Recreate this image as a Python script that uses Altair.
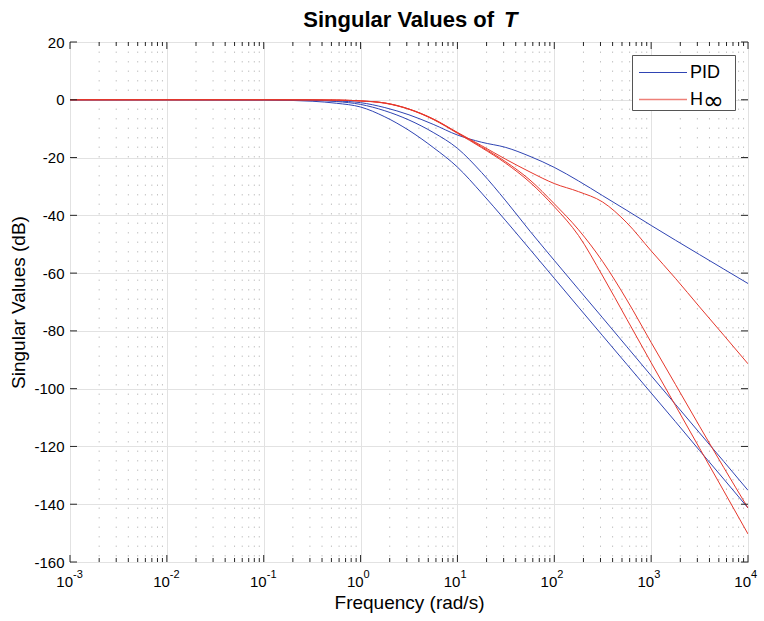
import altair as alt
import pandas as pd

# ---------------- data ----------------
FREQ = [0.001, 0.01, 0.1, 0.316, 0.562, 1, 1.78, 3.16, 5.62, 10, 17.8, 31.6,
        56.2, 100, 178, 316, 562, 1000, 1780, 3160, 5620, 10000]

PID_1 = [0, 0, -0.02, -0.12, -0.4, -1.0, -2.7, -5.2, -8.5, -12.2, -14.7, -16.5,
         -19.6, -23.4, -28.1, -33.2, -38.3, -43.5, -48.6, -53.6, -58.6, -63.6]
PID_2 = [0, 0, -0.03, -0.2, -0.6, -1.6, -3.8, -7.0, -11.3, -16.8, -25.2, -35.0,
         -45.5, -55.6, -65.6, -75.5, -85.5, -95.5, -105.4, -115.3, -125.2, -135.2]
PID_3 = [0, 0, -0.06, -0.5, -1.2, -2.5, -5.9, -10.6, -16.5, -23.3, -32.3, -41.9,
         -51.8, -61.8, -71.8, -81.7, -91.6, -101.5, -111.4, -121.4, -131.3, -141.3]
HINF_1 = [0, 0, 0, -0.03, -0.1, -0.4, -1.1, -3.2, -6.6, -11.3, -15.9, -20.6,
          -25.0, -29.0, -31.8, -35.4, -42.6, -52.3, -61.8, -71.7, -81.5, -91.4]
HINF_2 = [0, 0, 0, -0.03, -0.1, -0.4, -1.2, -3.3, -6.8, -11.6, -16.6, -22.0,
          -28.6, -37.0, -47.0, -61.0, -76.0, -91.0, -105.8, -120.6, -135.4, -150.3]
HINF_3 = [0, 0, 0, -0.03, -0.1, -0.4, -1.1, -3.2, -6.7, -11.4, -16.3, -21.5,
          -27.8, -36.0, -45.0, -56.0, -69.3, -84.0, -98.5, -113.0, -127.3, -141.3]

SERIES = [("PID", "p1", PID_1), ("PID", "p2", PID_2), ("PID", "p3", PID_3),
          ("H∞", "h1", HINF_1), ("H∞", "h2", HINF_2), ("H∞", "h3", HINF_3)]

DECADES = [0.001, 0.01, 0.1, 1, 10, 100, 1000, 10000]
EXPONENTS = ["-3", "-2", "-1", "0", "1", "2", "3", "4"]
MINOR = [m * d for d in DECADES[:-1] for m in range(2, 10)]
Y_TICKS = [20, 0, -20, -40, -60, -80, -100, -120, -140, -160]
LEGEND_NAMES = ["PID", "H"]

BLUE = "#2f44b3"
RED = "#e6372b"
RED_LEGEND = "#ee8078"
AX = "#262626"
W, H = 678, 520
FONT = "Liberation Sans"

# ---------------- build tables ----------------
rows = []
for group, curve, vals in SERIES:
    for f, v in zip(FREQ, vals):
        rows.append({"freq": f, "db": v, "group": group, "curve": curve})
df = pd.DataFrame(rows)

dec_df = pd.DataFrame({"f": DECADES, "base": ["10"] * len(DECADES), "exp": EXPONENTS})
minor_df = pd.DataFrame({"f": MINOR})
ytick_df = pd.DataFrame({"y": Y_TICKS})
one = pd.DataFrame({"k": [0]})

xs = alt.Scale(type="log", domain=[0.001, 10000], nice=False)
ys = alt.Scale(domain=[-160, 20], nice=False, zero=False)

X_AXIS = alt.Axis(values=DECADES, grid=True, gridColor="#e2e2e2", labels=False,
                  ticks=False, tickSize=0, domain=False, title="Frequency (rad/s)",
                  titleFontSize=19, titleFontWeight="normal", titleColor="black",
                  titlePadding=31, titleFont=FONT)
Y_AXIS = alt.Axis(values=Y_TICKS, grid=True, gridColor="#e2e2e2", ticks=False,
                  tickSize=0, domain=False, labelFontSize=15, labelColor="black",
                  labelPadding=6, labelFont=FONT, labelExpr="'' + datum.value",
                  title="Singular Values (dB)",
                  titleFontSize=19, titleFontWeight="normal", titleColor="black",
                  titlePadding=5, titleFont=FONT)


def X(field):
    return alt.X(field, scale=xs, axis=X_AXIS, title="Frequency (rad/s)")


def Y(field):
    return alt.Y(field, scale=ys, axis=Y_AXIS, title="Singular Values (dB)")


# minor dotted grid
minor_grid = alt.Chart(minor_df).mark_rule(
    stroke="#c4c4c4", strokeWidth=1, strokeDash=[1.5, 8]
).encode(x=X("f:Q"), y=alt.value(0), y2=alt.value(H))

# curves
lines = alt.Chart(df).mark_line(strokeWidth=1, interpolate="monotone", clip=True).encode(
    x=X("freq:Q"),
    y=Y("db:Q"),
    color=alt.Color("group:N", scale=alt.Scale(domain=["PID", "H∞"], range=[BLUE, RED]),
                    legend=None),
    detail="curve:N",
)

# ticks (inside)
tick_style = dict(stroke=AX, strokeWidth=1)
xb_major = alt.Chart(dec_df).mark_rule(**tick_style).encode(
    x=X("f:Q"), y=alt.value(H), y2=alt.value(H - 7))
xt_major = alt.Chart(dec_df).mark_rule(**tick_style).encode(
    x=X("f:Q"), y=alt.value(0), y2=alt.value(7))
xb_minor = alt.Chart(minor_df).mark_rule(**tick_style).encode(
    x=X("f:Q"), y=alt.value(H), y2=alt.value(H - 4))
xt_minor = alt.Chart(minor_df).mark_rule(**tick_style).encode(
    x=X("f:Q"), y=alt.value(0), y2=alt.value(4))
yl = alt.Chart(ytick_df).mark_rule(**tick_style).encode(
    y=Y("y:Q"), x=alt.value(0), x2=alt.value(7))
yr = alt.Chart(ytick_df).mark_rule(**tick_style).encode(
    y=Y("y:Q"), x=alt.value(W - 7), x2=alt.value(W))

# x tick labels 10^k
lab_base = alt.Chart(dec_df).mark_text(
    align="right", baseline="alphabetic", fontSize=15, font=FONT, color="black", dx=3
).encode(x=X("f:Q"), y=alt.value(H + 25), text="base:N")
lab_exp = alt.Chart(dec_df).mark_text(
    align="left", baseline="alphabetic", fontSize=11, font=FONT, color="black", dx=3
).encode(x=X("f:Q"), y=alt.value(H + 16), text="exp:N")

# title
t1 = alt.Chart(pd.DataFrame({"t": ["Singular Values of"]})).mark_text(
    align="right", baseline="alphabetic", fontSize=22, fontWeight="bold", font=FONT,
    color="black"
).encode(x=alt.value(424), y=alt.value(-15), text="t:N")
t2 = alt.Chart(pd.DataFrame({"t": ["T"]})).mark_text(
    align="left", baseline="alphabetic", fontSize=22, fontWeight="bold",
    fontStyle="italic", font=FONT, color="black"
).encode(x=alt.value(434), y=alt.value(-15), text="t:N")

# legend (drawn by hand, like MATLAB's box legend)
leg_box = alt.Chart(one).mark_rect(fill="white", stroke="#555555", strokeWidth=1).encode(
    x=alt.value(562.5), x2=alt.value(665.5), y=alt.value(13.5), y2=alt.value(68.5))
leg_blue = alt.Chart(one).mark_rule(stroke=BLUE, strokeWidth=1).encode(
    x=alt.value(569), x2=alt.value(617), y=alt.value(30.5))
leg_red = alt.Chart(one).mark_rule(stroke=RED_LEGEND, strokeWidth=1.3).encode(
    x=alt.value(569), x2=alt.value(617), y=alt.value(57.5))
leg_t1 = alt.Chart(pd.DataFrame({"t": [LEGEND_NAMES[0]]})).mark_text(
    align="left", baseline="middle", fontSize=18, font=FONT, color="black"
).encode(x=alt.value(620), y=alt.value(31), text="t:N")
leg_t2 = alt.Chart(pd.DataFrame({"t": [LEGEND_NAMES[1]]})).mark_text(
    align="left", baseline="middle", fontSize=18, font=FONT, color="black"
).encode(x=alt.value(620), y=alt.value(58), text="t:N")
leg_inf = alt.Chart(pd.DataFrame({"t": ["∞"]})).mark_text(
    align="left", baseline="middle", fontSize=25, font="DejaVu Sans",
    fontWeight="normal", color="black"
).encode(x=alt.value(633), y=alt.value(59), text="t:N")

chart = alt.layer(
    minor_grid, lines, xb_major, xt_major, xb_minor, xt_minor, yl, yr,
    lab_base, lab_exp, t1, t2, leg_box, leg_blue, leg_red, leg_t1, leg_t2, leg_inf
).properties(
    width=W, height=H,
    autosize=alt.AutoSizeParams(type="none"),
    padding={"left": 70, "top": 42, "right": 16, "bottom": 59},
).configure(font=FONT, background="white").configure_view(stroke=AX, strokeWidth=1)

chart.save("out.html", embed_options={"renderer": "svg", "actions": False})
